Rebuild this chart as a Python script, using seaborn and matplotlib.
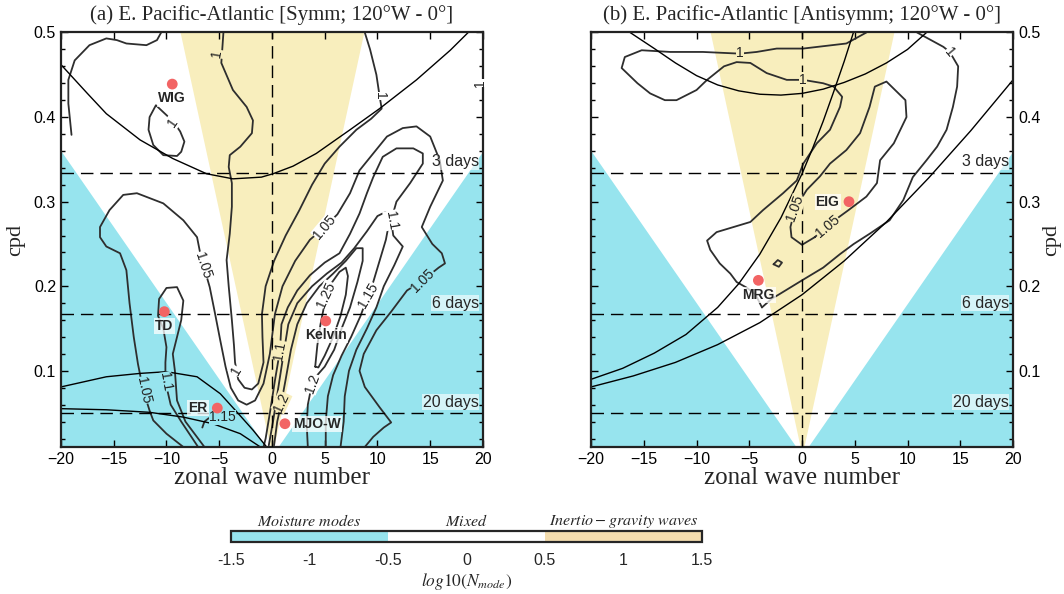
import matplotlib
matplotlib.use("Agg")
import matplotlib.pyplot as plt
import seaborn as sns
from matplotlib.colors import ListedColormap, BoundaryNorm
from matplotlib.cm import ScalarMappable
from matplotlib.ticker import MultipleLocator

# ---------------- datos ----------------
# bordes de las regiones de fondo (k, cpd)
CYAN_EDGE_K = [-20, 0, 20]
CYAN_EDGE_F = [0.36, 0.0, 0.36]
YELLOW_EDGE_K = [-8.7, 0, 8.7]
YELLOW_EDGE_F = [0.5, 0.0, 0.5]

PERIOD_DAYS = [3, 6, 20]
PERIOD_LABELS = ["3 days", "6 days", "20 days"]
PERIOD_LABEL_F = [0.347, 0.180, 0.063]

# curvas de dispersión, panel (a)
A_IG1_K = [-20, -17.5, -15.7, -12.5, -9.4, -6.2, -3.7, -1.0, 0.1, 2.0, 4.2, 7.4, 10.2, 13.7, 16.9, 18.6]
A_IG1_F = [0.462, 0.428, 0.404, 0.373, 0.351, 0.333, 0.327, 0.329, 0.333, 0.342, 0.357, 0.385, 0.41, 0.444, 0.479, 0.5]
A_ER1_K = [-20, -15.7, -12.5, -10, -7.1, -4.9, -3.3, -1.8, -0.5]
A_ER1_F = [0.081, 0.093, 0.097, 0.099, 0.093, 0.073, 0.051, 0.030, 0.010]
A_ER2_K = [-20, -15.7, -11.6, -8.4, -5.6, -3.0, -1.1]
A_ER2_F = [0.0553, 0.054, 0.051, 0.0453, 0.0375, 0.0257, 0.010]

# curvas de dispersión, panel (b)
B_MRG1_K = [-20, -17, -14, -11, -8, -6, -4, -2, 0, 1, 2, 3, 4, 5]
B_MRG1_F = [0.090, 0.103, 0.121, 0.143, 0.175, 0.203, 0.238, 0.281, 0.333, 0.363, 0.395, 0.430, 0.466, 0.505]
B_MRG2_K = [-20, -16, -12, -8, -4, 0, 4, 8, 12, 16, 20]
B_MRG2_F = [0.081, 0.094, 0.110, 0.131, 0.157, 0.190, 0.230, 0.276, 0.328, 0.384, 0.444]
B_IG2_K = [-16.3, -14, -12, -10, -8, -6, -4, -2, 0, 2, 4, 6, 8, 10, 11.8]
B_IG2_F = [0.5, 0.481, 0.464, 0.449, 0.438, 0.431, 0.427, 0.426, 0.428, 0.433, 0.441, 0.451, 0.464, 0.48, 0.5]

# contornos, panel (a)
A_C100_TL_K = [-19.0, -19.3, -19.3, -18.7, -17.3, -15.7, -14.7, -13.8, -11.9, -10.9, -10.5]
A_C100_TL_F = [0.379, 0.416, 0.444, 0.467, 0.485, 0.493, 0.491, 0.487, 0.485, 0.491, 0.5]
A_C100_WIG_K = [-9.2, -9.8, -11.0, -11.6, -11.7, -11.25, -10.3, -9.0, -8.6, -8.3, -8.7, -9.2]
A_C100_WIG_F = [0.392, 0.400, 0.414, 0.400, 0.385, 0.367, 0.355, 0.354, 0.359, 0.371, 0.383, 0.392]
A_C100_K = [-4.6, -4.8, -3.7, -2.4, -1.8, -1.9, -3.0, -4.0, -4.1, -3.8, -3.8, -4.0, -4.3, -4.1, -3.8,
            -3.6, -3.5, -3.2, -2.6, -1.9, -1.3, -0.8, -0.9, -0.95, -0.6, 0.2, 1.3, 2.6, 3.8, 5.0,
            6.4, 8.0, 9.4, 10.4, 10.2, 9.9, 9.3, 8.8]
A_C100_F = [0.5, 0.464, 0.432, 0.412, 0.396, 0.381, 0.365, 0.355, 0.341, 0.322, 0.294, 0.262, 0.231, 0.2, 0.16,
            0.13, 0.11, 0.09, 0.08, 0.078, 0.085, 0.11, 0.14, 0.167, 0.2, 0.23, 0.26, 0.29, 0.32, 0.345,
            0.365, 0.385, 0.398, 0.41, 0.425, 0.45, 0.48, 0.5]
A_C105_K = [-8.4, -10.0, -11.25, -11.6, -12.2, -12.7, -13.1, -13.5, -13.8, -14.4, -15.7, -16.3, -16.3,
            -15.4, -14.1, -12.8, -10.3, -8.4, -7.1, -6.8, -6.5, -5.9, -5.4, -4.9, -4.4, -3.9, -3.2,
            -2.4, -1.6, -0.8, -0.2, 0.28, 1.0, 2.2, 3.6, 5.0, 6.2, 7.4, 8.3, 9.6, 10.9, 12.4, 13.7,
            15.0, 15.9, 16.2, 15.0, 14.2, 15.2, 16.1, 16.4, 15.8, 14.3, 12.8, 11.3, 9.9, 8.7, 8.3, 8.8,
            10.2, 11.3, 10.6, 9.6, 8.8]
A_C105_F = [0.01, 0.0257, 0.0414, 0.053, 0.077, 0.108, 0.14, 0.18, 0.219, 0.239, 0.247, 0.258, 0.27,
            0.29, 0.308, 0.31, 0.298, 0.278, 0.258, 0.239, 0.225, 0.199, 0.168, 0.136, 0.105, 0.08, 0.065,
            0.06, 0.065, 0.085, 0.12, 0.167, 0.2, 0.23, 0.255, 0.27, 0.285, 0.31, 0.337, 0.357, 0.377, 0.387, 0.389,
            0.377, 0.349, 0.325, 0.294, 0.27, 0.25, 0.239, 0.227, 0.222, 0.207, 0.195, 0.17, 0.148, 0.12, 0.1, 0.081,
            0.057, 0.039, 0.033, 0.022, 0.01]
A_C110_TD_K = [-7.0, -7.8, -8.6, -9.6, -10.1, -10.1, -10.0, -10.3, -10.8, -10.7, -10.0, -9.0, -8.4, -8.6,
               -9.0, -9.4, -9.2, -9.0, -8.2, -7.3, -6.4]
A_C110_TD_F = [0.01, 0.025, 0.04, 0.06, 0.087, 0.11, 0.128, 0.15, 0.165, 0.185, 0.198, 0.199, 0.183, 0.16,
               0.14, 0.12, 0.10, 0.065, 0.04, 0.025, 0.01]
A_C115_ER_K = [-6.6, -6.4, -6.0, -5.6]
A_C115_ER_F = [0.033, 0.04, 0.044, 0.045]
A_C110_K = [-0.8, -0.6, -0.2, 0.3, 0.76, 0.9, 1.5, 2.4, 3.6, 5.0, 6.4, 7.4, 8.3, 9.0, 9.6, 10.5, 11.8, 13.4,
            14.3, 14.3, 13.1, 11.8, 11.3, 11.5, 12.4, 11.6, 10.6, 9.9, 9.0, 8.0, 7.3, 6.9, 6.8, 6.5]
A_C110_F = [0.01, 0.02, 0.05, 0.09, 0.124, 0.155, 0.175, 0.195, 0.213, 0.228, 0.239, 0.262, 0.286, 0.31, 0.329,
            0.353, 0.363, 0.363, 0.357, 0.345, 0.322, 0.30, 0.278, 0.26, 0.247, 0.225, 0.2, 0.175, 0.15, 0.125,
            0.1, 0.07, 0.04, 0.01]
A_C115_K = [-0.3, 0.1, 0.6, 1.1, 1.55, 2.4, 3.8, 5.2, 6.6, 7.8, 9.0, 10.0, 10.8, 11.1, 10.8, 10.2, 9.6, 9.1,
            8.4, 7.5, 6.6, 5.8, 5.3, 5.1, 5.1]
A_C115_F = [0.012, 0.04, 0.08, 0.12, 0.155, 0.18, 0.2, 0.215, 0.228, 0.245, 0.265, 0.283, 0.288, 0.275, 0.255,
            0.23, 0.205, 0.189, 0.165, 0.14, 0.118, 0.095, 0.07, 0.04, 0.01]
A_C120_K = [0.2, 0.5, 0.9, 1.3, 1.8, 2.4, 3.3, 4.5, 5.8, 7.0, 8.0, 8.6, 8.6, 8.1, 7.4, 6.6, 5.9, 5.0, 4.3,
            3.8, 3.4, 3.3, 3.4]
A_C120_F = [0.012, 0.04, 0.063, 0.09, 0.125, 0.155, 0.18, 0.2, 0.215, 0.23, 0.245, 0.245, 0.23, 0.205, 0.175,
            0.15, 0.125, 0.105, 0.095, 0.085, 0.06, 0.035, 0.01]
A_C125_K = [4.1, 4.3, 4.6, 5.0, 5.6, 6.4, 7.0, 7.2, 7.0, 6.5, 5.8, 5.0, 4.4, 4.1]
A_C125_F = [0.105, 0.13, 0.155, 0.18, 0.203, 0.217, 0.222, 0.212, 0.19, 0.165, 0.14, 0.118, 0.104, 0.105]

# contornos, panel (b)
B_C100_TOP_K = [6.1, 4.2, 0.1, -2.4, -4.3, -5.9, -9.4, -12.5, -15.2, -16.8, -17.1, -15.6, -14.4, -13.0, -11.9,
                -10.0, -9.0, -7.4, -6.2, -4.9, -3.35, -1.45, 0.1, 2.0, 3.0, 3.8, 3.6, 2.65, 1.4, 0.12, -0.5,
                -1.8, -3.7, -4.9, -6.5, -8.1, -9.0, -8.7, -7.8, -6.8, -6.2, -5.2, -4.4, -3.8]
B_C100_TOP_F = [0.5, 0.487, 0.481, 0.481, 0.477, 0.475, 0.477, 0.477, 0.479, 0.471, 0.458, 0.44, 0.428, 0.42, 0.42,
                0.432, 0.444, 0.46, 0.465, 0.464, 0.452, 0.444, 0.444, 0.44, 0.436, 0.424, 0.412, 0.385, 0.369, 0.345,
                0.325, 0.31, 0.29, 0.276, 0.27, 0.264, 0.254, 0.243, 0.227, 0.215, 0.205, 0.198, 0.19, 0.175]
B_C100_R_K = [10.9, 13.4, 14.0, 14.8, 14.7, 14.3, 13.7, 12.8, 11.8, 10.5, 9.6, 8.3, 6.4, 4.9, 3.6, 2.0, 0.0,
              -2.1, -2.9, -3.8]
B_C100_R_F = [0.5, 0.483, 0.477, 0.46, 0.436, 0.412, 0.385, 0.365, 0.349, 0.329, 0.302, 0.278, 0.262, 0.25,
              0.238, 0.222, 0.207, 0.191, 0.185, 0.175]
B_C105_K = [1.2, 2.3, 3.3, 4.4, 6.1, 7.1, 7.4, 8.7, 9.9, 9.8, 8.0, 6.9, 6.4, 5.5, 4.2, 2.65, 1.7, 0.45,
            -0.66, -1.1, -1.0, 0.0, 1.2]
B_C105_F = [0.258, 0.27, 0.28, 0.29, 0.306, 0.322, 0.349, 0.369, 0.40, 0.42, 0.442, 0.436, 0.412, 0.381, 0.361,
            0.345, 0.33, 0.314, 0.292, 0.27, 0.258, 0.249, 0.258]
B_C105_SM_K = [-2.7, -2.3, -1.9, -2.2, -2.7]
B_C105_SM_F = [0.226, 0.231, 0.228, 0.223, 0.226]

# etiquetas de contorno: (texto, k, f, rotación)
A_CLABELS = [("1", -5.2, 0.475, 80), ("1", -9.4, 0.394, 55), ("1", -3.4, 0.10, 60),
             ("1", 10.2, 0.425, -90), ("1", 19.7, 0.44, 90),
             ("1.05", -6.5, 0.225, -72), ("1.05", -12.2, 0.077, -78), ("1.1", -10.1, 0.087, -80),
             ("1.15", -4.7, 0.045, 0), ("1.1", 0.76, 0.124, 80), ("1.2", 0.9, 0.063, 65),
             ("1.2", 3.8, 0.085, 70), ("1.25", 5.1, 0.19, 65), ("1.15", 9.1, 0.189, 60),
             ("1.05", 5.0, 0.27, 50), ("1.05", 14.3, 0.207, 45), ("1.1", 11.3, 0.278, -80)]
B_CLABELS = [("1", -5.9, 0.476, 0), ("1", 0.1, 0.444, 0), ("1", 14.0, 0.477, -50),
             ("1.05", -0.66, 0.292, 70), ("1.05", 2.4, 0.271, 40)]

# modos marcados
A_MODES = ["WIG", "TD", "ER", "Kelvin", "MJO-W"]
A_MODE_K = [-9.45, -10.2, -5.18, 5.1, 1.23]
A_MODE_F = [0.439, 0.170, 0.056, 0.159, 0.0375]
B_MODES = ["MRG", "EIG"]
B_MODE_K = [-4.14, 4.45]
B_MODE_F = [0.207, 0.30]

# colorbar
CBAR_BOUNDS = [-1.5, -0.5, 0.5, 1.5]
CBAR_TICKS = [-1.5, -1, -0.5, 0, 0.5, 1, 1.5]
CBAR_CLASSES = [r"$Moisture\ modes$", r"$Mixed$", r"$Inertio-gravity\ waves$"]
CBAR_CLASS_X = [-1, 0, 1]

CIAN = "#97E4EE"
AMARILLO = "#F8EEBD"
CONTORNO = "#2E2E2E"
PUNTO = "#F26464"

sns.set_theme(style="ticks")
plt.rcParams["font.family"] = ["Liberation Sans", "DejaVu Sans"]
plt.rcParams["mathtext.fontset"] = "stix"
SERIF = "Liberation Serif"


def color_fondo(k, f):
    pend_c = CYAN_EDGE_F[0] / abs(CYAN_EDGE_K[0])
    pend_y = YELLOW_EDGE_F[0] / abs(YELLOW_EDGE_K[0])
    if f < pend_c * abs(k):
        return CIAN
    if f > pend_y * abs(k):
        return AMARILLO
    return "white"


def linea(ax, k, f, color, lw):
    sns.lineplot(x=k, y=f, sort=False, estimator=None, color=color, lw=lw, ax=ax, legend=False)


def panel(ax, titulo, curvas, contornos, clabels, modos, lado):
    ax.fill_between(CYAN_EDGE_K, 0, CYAN_EDGE_F, color=CIAN, lw=0, zorder=0)
    ax.fill_between(YELLOW_EDGE_K, YELLOW_EDGE_F, 0.5, color=AMARILLO, lw=0, zorder=0)

    for k, f in contornos:
        linea(ax, k, f, CONTORNO, 1.3)
    for k, f in curvas:
        linea(ax, k, f, "black", 1.0)

    for d in PERIOD_DAYS:
        ax.axhline(1 / d, color="black", lw=1.0, dashes=(9, 5), zorder=3)
    ax.axvline(0, color="black", lw=1.0, dashes=(9, 5), zorder=3)
    for lab, fy in zip(PERIOD_LABELS, PERIOD_LABEL_F):
        ax.text(19.6, fy, lab, ha="right", va="center", fontsize=11.5, zorder=6,
                bbox=dict(facecolor="white", alpha=0.6, edgecolor="none", pad=0.5))

    for txt, k, f, rot in clabels:
        ax.text(k, f, txt, ha="center", va="center", rotation=rot, fontsize=10,
                color="#222222", zorder=4,
                bbox=dict(facecolor=color_fondo(k, f), edgecolor="none", pad=0.3))

    nombres, mk, mf, pos = modos
    sns.scatterplot(x=mk, y=mf, color=PUNTO, s=60, edgecolor="none", ax=ax, zorder=7, legend=False)
    for nom, k, f in zip(nombres, mk, mf):
        if pos.get(nom) == "left":
            kw = dict(x=k - 0.9, y=f, ha="right", va="center")
        elif pos.get(nom) == "right":
            kw = dict(x=k + 0.8, y=f, ha="left", va="center")
        else:
            kw = dict(x=k, y=f - 0.017, ha="center", va="center")
        ax.text(s=nom, fontsize=10, fontweight="bold", zorder=8,
                bbox=dict(facecolor="white", alpha=0.75, edgecolor="none", pad=0.8), **kw)

    ax.set_xlim(-20, 20)
    ax.set_ylim(0.01, 0.5)
    ax.set_xticks(range(-20, 21, 5))
    ax.yaxis.set_major_locator(MultipleLocator(0.1))
    ax.yaxis.set_minor_locator(MultipleLocator(0.02))
    ax.tick_params(which="both", direction="in", top=True, right=True, left=True, labelsize=11.5,
                   width=1.0, colors="black")
    ax.tick_params(which="major", length=5)
    ax.tick_params(which="minor", length=3)
    if lado == "right":
        ax.tick_params(labelleft=False, labelright=True)
        ax.yaxis.set_label_position("right")
        pad_y = 1
    else:
        pad_y = 6
    for s in ax.spines.values():
        s.set_linewidth(1.6)
        s.set_color("#222222")
    ax.set_title(titulo, fontfamily=SERIF, fontsize=15, pad=9)
    ax.set_xlabel("zonal wave number", fontfamily=SERIF, fontsize=18, labelpad=0)
    ax.set_ylabel("cpd", fontfamily=SERIF, fontsize=16, labelpad=pad_y)


fig = plt.figure(figsize=(10.64, 5.94), dpi=100)
ax_a = fig.add_axes([0.0573, 0.2475, 0.3966, 0.6978])
ax_b = fig.add_axes([0.5555, 0.2475, 0.3966, 0.6978])

panel(ax_a, "(a) E. Pacific-Atlantic [Symm; 120°W - 0°]",
      [(A_IG1_K, A_IG1_F), (A_ER1_K, A_ER1_F), (A_ER2_K, A_ER2_F)],
      [(A_C100_TL_K, A_C100_TL_F), (A_C100_WIG_K, A_C100_WIG_F), (A_C100_K, A_C100_F),
       (A_C105_K, A_C105_F), (A_C110_TD_K, A_C110_TD_F),
       (A_C115_ER_K, A_C115_ER_F), (A_C110_K, A_C110_F), (A_C115_K, A_C115_F),
       (A_C120_K, A_C120_F), (A_C125_K, A_C125_F)],
      A_CLABELS,
      (A_MODES, A_MODE_K, A_MODE_F, {"ER": "left", "MJO-W": "right"}), "left")

panel(ax_b, "(b) E. Pacific-Atlantic [Antisymm; 120°W - 0°]",
      [(B_MRG1_K, B_MRG1_F), (B_MRG2_K, B_MRG2_F), (B_IG2_K, B_IG2_F)],
      [(B_C100_TOP_K, B_C100_TOP_F), (B_C100_R_K, B_C100_R_F), (B_C105_K, B_C105_F),
       (B_C105_SM_K, B_C105_SM_F)],
      B_CLABELS,
      (B_MODES, B_MODE_K, B_MODE_F, {"EIG": "left"}), "right")

# barra de colores
cax = fig.add_axes([0.217, 0.0875, 0.4427, 0.0185])
cmap = ListedColormap([CIAN, "white", "#F3DCAE"])
norm = BoundaryNorm(CBAR_BOUNDS, cmap.N)
cb = fig.colorbar(ScalarMappable(norm=norm, cmap=cmap), cax=cax, orientation="horizontal",
                  ticks=CBAR_TICKS)
cb.ax.set_xticklabels(["-1.5", "-1", "-0.5", "0", "0.5", "1", "1.5"])
cb.ax.tick_params(direction="in", length=6, width=1.2, labelsize=11.5, pad=8)
cb.outline.set_linewidth(1.6)
for txt, x in zip(CBAR_CLASSES, CBAR_CLASS_X):
    cax.text(x, 1.9, txt, ha="center", va="center", fontsize=11.5,
             transform=cax.get_xaxis_transform())
cb.set_label(r"$log10(N_{mode})$", fontsize=12.5, labelpad=2)

fig.savefig("out.png", dpi=100)
